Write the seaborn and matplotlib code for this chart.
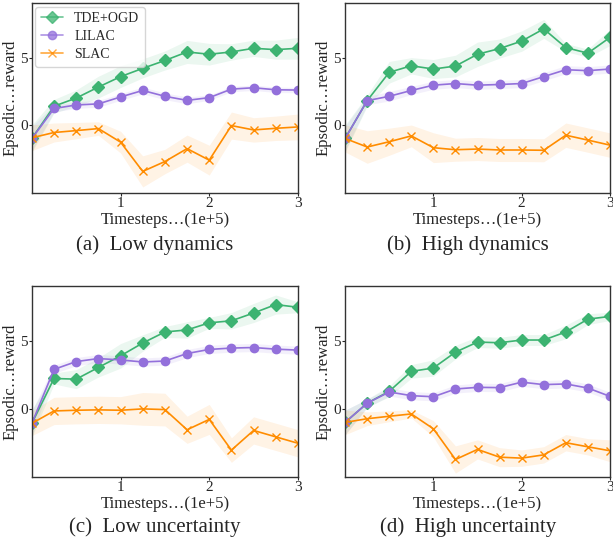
"""
Episodic reward curves for TDE+OGD, LILAC and SLAC under four settings
"""

import matplotlib
matplotlib.use('Agg')
import matplotlib.pyplot as plt
import seaborn as sns
import numpy as np
import pandas as pd


# Timesteps (1e+5)
steps = [0, 0.25, 0.5, 0.75, 1.0, 1.25, 1.5, 1.75, 2.0, 2.25, 2.5, 2.75, 3.0]

methods = ['TDE+OGD', 'LILAC', 'SLAC']
captions = ['(a)  Low dynamics', '(b)  High dynamics',
            '(c)  Low uncertainty', '(d)  High uncertainty']

# (a) Low dynamics
low_dyn_tde = [-0.97, 1.41, 2.01, 2.82, 3.59, 4.2, 4.78, 5.41, 5.24, 5.41, 5.68, 5.58, 5.68]
low_dyn_tde_sd = [1.0, 0.5, 0.6, 0.8, 0.8, 0.7, 0.7, 0.85, 0.8, 0.6, 0.6, 0.7, 0.8]
low_dyn_lilac = [-0.97, 1.24, 1.5, 1.58, 2.09, 2.57, 2.14, 1.84, 2.04, 2.67, 2.77, 2.62, 2.6]
low_dyn_lilac_sd = [0.9, 0.25, 0.25, 0.25, 0.25, 0.25, 0.25, 0.25, 0.2, 0.2, 0.2, 0.2, 0.2]
low_dyn_slac = [-0.92, -0.53, -0.39, -0.24, -1.24, -3.4, -2.67, -1.72, -2.57, -0.02, -0.34, -0.22, -0.12]
low_dyn_slac_sd = [0.95, 0.7, 0.6, 0.5, 0.8, 1.15, 0.9, 1.0, 1.1, 1.0, 0.9, 0.9, 0.95]

# (b) High dynamics
high_dyn_tde = [-0.97, 1.82, 3.91, 4.39, 4.15, 4.37, 5.24, 5.66, 6.21, 7.11, 5.73, 5.32, 6.48]
high_dyn_tde_sd = [1.0, 0.4, 0.8, 0.6, 0.7, 0.8, 0.9, 0.7, 0.75, 0.7, 0.3, 0.3, 0.6]
high_dyn_lilac = [-0.97, 1.82, 2.14, 2.57, 2.96, 3.08, 2.96, 3.01, 3.08, 3.59, 4.1, 4.03, 4.15]
high_dyn_lilac_sd = [0.9, 0.3, 0.35, 0.3, 0.3, 0.3, 0.3, 0.3, 0.3, 0.3, 0.3, 0.3, 0.3]
high_dyn_slac = [-0.97, -1.6, -1.21, -0.78, -1.65, -1.8, -1.75, -1.82, -1.82, -1.84, -0.73, -1.09, -1.46]
high_dyn_slac_sd = [1.0, 1.2, 1.0, 0.8, 1.1, 0.85, 0.85, 0.85, 0.85, 0.85, 0.9, 0.9, 0.9]

# (c) Low uncertainty
low_unc_tde = [-1.06, 2.23, 2.18, 3.04, 3.89, 4.83, 5.64, 5.79, 6.31, 6.46, 7.03, 7.65, 7.45]
low_unc_tde_sd = [1.0, 0.4, 0.7, 0.7, 0.9, 0.6, 0.4, 0.6, 0.4, 0.6, 0.7, 0.7, 0.4]
low_unc_lilac = [-1.06, 2.9, 3.47, 3.69, 3.59, 3.44, 3.51, 4.06, 4.36, 4.46, 4.5, 4.38, 4.31]
low_unc_lilac_sd = [0.9, 0.3, 0.3, 0.3, 0.3, 0.3, 0.3, 0.3, 0.3, 0.3, 0.3, 0.3, 0.3]
low_unc_slac = [-1.06, -0.15, -0.1, -0.07, -0.1, 0.0, -0.05, -1.53, -0.77, -3.02, -1.58, -2.05, -2.52]
low_unc_slac_sd = [0.9, 1.0, 1.0, 1.0, 1.0, 1.2, 1.2, 1.0, 1.1, 0.9, 1.0, 1.0, 1.0]

# (d) High uncertainty
high_unc_tde = [-0.99, 0.42, 1.29, 2.75, 3.0, 4.16, 4.9, 4.85, 5.05, 5.05, 5.64, 6.58, 6.78]
high_unc_tde_sd = [0.9, 0.3, 0.4, 0.5, 0.6, 0.5, 0.4, 0.4, 0.4, 0.4, 0.5, 0.4, 0.3]
high_unc_lilac = [-0.99, 0.42, 1.24, 0.97, 0.89, 1.46, 1.58, 1.56, 1.96, 1.78, 1.83, 1.53, 0.92]
high_unc_lilac_sd = [0.9, 0.3, 0.3, 0.3, 0.3, 0.3, 0.3, 0.3, 0.3, 0.3, 0.3, 0.3, 0.3]
high_unc_slac = [-0.99, -0.72, -0.54, -0.37, -1.46, -3.71, -2.97, -3.54, -3.61, -3.37, -2.48, -2.78, -3.07]
high_unc_slac_sd = [0.9, 0.5, 0.4, 0.3, 0.6, 1.0, 0.7, 0.7, 0.6, 0.6, 0.6, 0.6, 0.8]


# General plot parameters
colors = {'TDE+OGD': '#3cb371', 'LILAC': '#9370db', 'SLAC': '#ff8c00'}
markers = {'TDE+OGD': 'D', 'LILAC': 'o', 'SLAC': 'x'}


def make_frame(means, sds):
    """
    Stack one panel's series into a long DataFrame
    """
    frames = []
    for name, mu, sd in zip(methods, means, sds):
        temp_df = pd.DataFrame({'Step': steps, 'Reward': mu, 'SD': sd})
        temp_df['Method'] = name
        frames.append(temp_df)
    return pd.concat(frames, ignore_index=True)


def draw_panel(ax, df, legend=False):
    """
    Draw the three curves with their shaded bands
    """
    for name in methods:
        sub = df[df['Method'] == name]
        c = colors[name]
        ax.fill_between(sub['Step'], sub['Reward'] - sub['SD'],
                        sub['Reward'] + sub['SD'], color=c, alpha=0.1, lw=0)
        sns.lineplot(x='Step', y='Reward', data=sub, ax=ax, color=c,
                     marker=markers[name], markersize=6,
                     markeredgecolor=c, markerfacecolor=c,
                     markeredgewidth=1.0, lw=1.2, label=name if legend else None)

    ax.set_xlim(0, 3)
    ax.set_ylim(-5, 9)
    ax.set_xticks([1, 2, 3])
    ax.set_yticks([0, 5])
    ax.set_xlabel('Timesteps…(1e+5)', fontsize=12, labelpad=1)
    ax.set_ylabel('Epsodic…reward', fontsize=12, labelpad=1)
    ax.tick_params(length=2, width=0.8, labelsize=11, pad=1)
    for sp in ax.spines.values():
        sp.set_color('#333333')
        sp.set_linewidth(1.0)

    if legend:
        leg = ax.legend(loc='upper left', fontsize=10, frameon=True,
                        handlelength=1.6, borderpad=0.4, labelspacing=0.35,
                        borderaxespad=0.25, handletextpad=0.8)
        for h in leg.legend_handles:
            h.set_alpha(0.75)
    elif ax.get_legend() is not None:
        ax.get_legend().remove()


def main():
    sns.set_theme(style='ticks')
    plt.rcParams['font.family'] = ['Liberation Serif', 'DejaVu Serif']
    plt.rcParams['mathtext.fontset'] = 'stix'

    panels = [
        make_frame([low_dyn_tde, low_dyn_lilac, low_dyn_slac],
                   [low_dyn_tde_sd, low_dyn_lilac_sd, low_dyn_slac_sd]),
        make_frame([high_dyn_tde, high_dyn_lilac, high_dyn_slac],
                   [high_dyn_tde_sd, high_dyn_lilac_sd, high_dyn_slac_sd]),
        make_frame([low_unc_tde, low_unc_lilac, low_unc_slac],
                   [low_unc_tde_sd, low_unc_lilac_sd, low_unc_slac_sd]),
        make_frame([high_unc_tde, high_unc_lilac, high_unc_slac],
                   [high_unc_tde_sd, high_unc_lilac_sd, high_unc_slac_sd]),
    ]

    fig = plt.figure(figsize=(6.13, 5.44), dpi=100)
    # left, bottom, width, height in figure fractions
    boxes = [
        [0.052, 0.645, 0.434, 0.349],
        [0.563, 0.645, 0.432, 0.349],
        [0.052, 0.123, 0.434, 0.351],
        [0.563, 0.123, 0.432, 0.351],
    ]
    caption_pos = [(0.253, 0.55), (0.763, 0.55), (0.253, 0.031), (0.763, 0.031)]

    for i, df in enumerate(panels):
        ax = fig.add_axes(boxes[i])
        draw_panel(ax, df, legend=(i == 0))
        fig.text(caption_pos[i][0], caption_pos[i][1], captions[i],
                 ha='center', va='center', fontsize=15)

    fig.savefig('out.png', dpi=100, facecolor='white')
    plt.close(fig)


if __name__ == '__main__':
    main()
